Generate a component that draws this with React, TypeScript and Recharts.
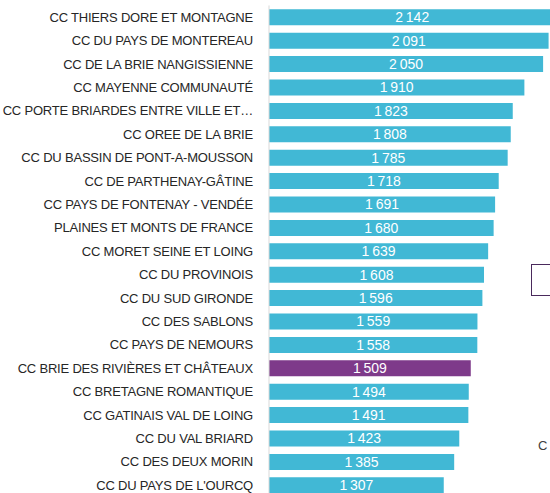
import { BarChart, Bar, XAxis, YAxis, Cell, LabelList } from 'recharts';

const communes = [
  'CC THIERS DORE ET MONTAGNE',
  'CC DU PAYS DE MONTEREAU',
  'CC DE LA BRIE NANGISSIENNE',
  'CC MAYENNE COMMUNAUTÉ',
  'CC PORTE BRIARDES ENTRE VILLE ET…',
  'CC OREE DE LA BRIE',
  'CC DU BASSIN DE PONT-A-MOUSSON',
  'CC DE PARTHENAY-GÂTINE',
  'CC PAYS DE FONTENAY - VENDÉE',
  'PLAINES ET MONTS DE FRANCE',
  'CC MORET SEINE ET LOING',
  'CC DU PROVINOIS',
  'CC DU SUD GIRONDE',
  'CC DES SABLONS',
  'CC PAYS DE NEMOURS',
  'CC BRIE DES RIVIÈRES ET CHÂTEAUX',
  'CC BRETAGNE ROMANTIQUE',
  'CC GATINAIS VAL DE LOING',
  'CC DU VAL BRIARD',
  'CC DES DEUX MORIN',
  "CC DU PAYS DE L'OURCQ",
];

const valeurs = [2142, 2091, 2050, 1910, 1823, 1808, 1785, 1718, 1691, 1680, 1639, 1608, 1596, 1559, 1558, 1509, 1494, 1491, 1423, 1385, 1307];

const highlighted = 'CC BRIE DES RIVIÈRES ET CHÂTEAUX';

const data = communes.map((name, i) => ({ name, value: valeurs[i] }));

const font = '"Liberation Sans", Arial, sans-serif';

const fmt = (v: number) => {
  const s = String(v);
  return s.length > 3 ? s.slice(0, -3) + '\u202F' + s.slice(-3) : s;
};

// single-line tick, no wrapping
const CategoryTick = ({ x, y, payload }: any) => (
  <text x={x + 2} y={y} dy="0.36em" textAnchor="end" fill="#262626" fontSize={13} letterSpacing={-0.2} fontFamily={font}>
    {payload.value}
  </text>
);

export default function App() {
  return (
    <div style={{ position: 'absolute', left: 0, top: 0, width: 550, height: 493, overflow: 'hidden', background: '#fff', fontFamily: font }}>
      <BarChart
        width={600}
        height={500}
        data={data}
        layout="vertical"
        margin={{ top: 5.45, right: 10.1, bottom: 3.15, left: 0 }}
        barCategoryGap="16.5%"
      >
        <XAxis type="number" domain={[0, 2400]} hide />
        <YAxis
          type="category"
          dataKey="name"
          width={269}
          tickLine={false}
          axisLine={{ stroke: '#d9d9d9', strokeWidth: 1 }}
          tickMargin={12}
          interval={0}
          tick={<CategoryTick />}
        />
        <Bar dataKey="value" isAnimationActive={false}>
          {data.map((d) => (
            <Cell key={d.name} fill={d.name === highlighted ? '#7e3a8a' : '#41b8d5'} />
          ))}
          <LabelList
            dataKey="value"
            position="center"
            formatter={(v: any) => fmt(Number(v))}
            style={{ fill: '#ffffff', fontSize: 14, fontFamily: font }}
          />
        </Bar>
      </BarChart>
      <div style={{ position: 'absolute', left: 531, top: 264, width: 40, height: 30, border: '1.5px solid #4a2a5c' }} />
      <div style={{ position: 'absolute', left: 538, top: 438, fontSize: 13, color: '#404040' }}>C</div>
    </div>
  );
}
